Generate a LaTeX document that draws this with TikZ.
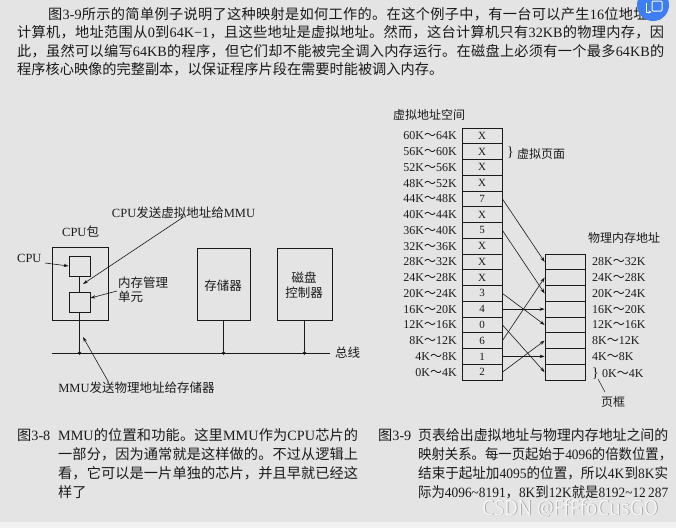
\documentclass[tikz,border=0pt]{standalone}
\usepackage{fontspec}
\usepackage{graphicx}
\setmainfont{Liberation Serif}
\newfontfamily\cjkfont{Noto Sans CJK SC}
\newfontfamily\latfont{Liberation Serif}
\newfontfamily\wmfont{Noto Sans}
\usetikzlibrary{arrows.meta}
\definecolor{bg}{HTML}{E4E4E4}
\definecolor{ink}{HTML}{1A1A1A}
\definecolor{iconblue}{HTML}{3D7EF2}
% automatic switching between Latin and CJK fonts
\XeTeXinterchartokenstate=1
\newXeTeXintercharclass\CJKcls
\newcount\clsi
\def\setcls#1#2{\clsi=#1\relax\loop\XeTeXcharclass\clsi=\CJKcls\relax\ifnum\clsi<#2\relax\advance\clsi by 1\relax\repeat}
\setcls{"3000}{"303F}
\setcls{"4E00}{"9FFF}
\setcls{"FF00}{"FFEF}
\def\cg{\hskip0pt plus 1pt minus 1pt\relax}
\XeTeXinterchartoks 0 \CJKcls = {\cg\cjkfont}
\XeTeXinterchartoks 4095 \CJKcls = {\cjkfont}
\XeTeXinterchartoks \CJKcls 0 = {\cg\latfont}
\XeTeXinterchartoks 4095 0 = {\latfont}
\XeTeXinterchartoks \CJKcls \CJKcls = {\cg}
\newbox\fbx
\newcommand\fitline[2]{\setbox\fbx\hbox{#2}\ifdim\wd\fbx>#1\relax\resizebox{#1}{\height}{\box\fbx}\else\hbox to #1{\unhbox\fbx}\fi}
\begin{document}
\begin{tikzpicture}[x=1pt,y=-1pt,
  ln/.style={draw=ink,line width=0.8pt},
  thin/.style={draw=ink,line width=0.5pt},
  cell/.style={draw=ink,line width=0.8pt,inner sep=0pt,minimum width=40pt,minimum height=15.75pt,text=ink,font=\fontsize{11}{11}\selectfont},
  box/.style={draw=ink,line width=0.8pt,inner sep=0pt},
  arr/.style={draw=ink,line width=0.6pt,-{Stealth[length=5pt,width=3.4pt]}},
  lbl/.style={inner sep=0pt,text=ink,font=\fontsize{12}{12}\selectfont},
  lblL/.style={inner sep=0pt,text=ink,font=\fontsize{12.5}{12.5}\selectfont},
  brc/.style={inner sep=0pt,text=ink,font=\fontsize{14}{14}\selectfont},
  body/.style={inner sep=0pt,text=ink,anchor=west,font=\fontsize{14.2}{14.2}\selectfont},
  dot/.style={circle,fill=ink,inner sep=0pt,minimum size=3.6pt},
  wm/.style={inner sep=0pt,anchor=west,font=\wmfont\fontsize{21}{21}\selectfont},
]
\useasboundingbox (0,0) rectangle (676,528);
\fill[bg] (0,0) rectangle (676,528);
\fill[bg!50!white] (0,522) rectangle (676,528);

% ---------- top paragraph ----------
\node[body] (p1) at (48,14) {\fitline{614pt}{图3-9所示的简单例子说明了这种映射是如何工作的。在这个例子中，有一台可以产生16位地址的}};
\node[body] (p2) at (17,32.5) {\fitline{647pt}{计算机，地址范围从0到64K−1，且这些地址是虚拟地址。然而，这台计算机只有32KB的物理内存，因}};
\node[body] (p3) at (17,51) {\fitline{647pt}{此，虽然可以编写64KB的程序，但它们却不能被完全调入内存运行。在磁盘上必须有一个最多64KB的}};
\node[body] (p4) at (17,69.5) {程序核心映像的完整副本，以保证程序片段在需要时能被调入内存。};

% ---------- figure 3-8 ----------
\node[box,minimum width=56pt,minimum height=73pt] (pkg) at (80,283.5) {};
\node[box,minimum width=21pt,minimum height=20pt] (cpu) at (79.5,266) {};
\node[box,minimum width=21pt,minimum height=20pt] (mmu) at (79.5,302) {};
\node[box,minimum width=53pt,minimum height=72pt] (mem) at (223.5,284) {};
\node[box,minimum width=55pt,minimum height=72pt] (disk) at (304.5,284) {};
\coordinate (busL) at (52,353);
\coordinate (busR) at (330,353);
\draw[ln] (busL) -- (busR);
\node[dot] (d1) at (79.5,353) {};
\node[dot] (d2) at (223.5,353) {};
\node[dot] (d3) at (304.5,353) {};
\draw[ln] (cpu) -- (mmu);
\draw[ln] (mmu) -- (d1);
\draw[ln] (mem) -- (d2);
\draw[ln] (disk) -- (d3);

\node[lblL,anchor=west] (cpupkg) at (62,232) {CPU包};
\node[lblL,anchor=west] (cpul) at (17,258) {CPU};
\node[lblL] (s1) at (183.5,213) {CPU发送虚拟地址给MMU};
\node[lblL,anchor=west] (mm1) at (118,283) {内存管理};
\node[lblL,anchor=west] (mm2) at (118,297) {单元};
\node[lblL] (memt) at (223,286) {存储器};
\node[lblL] (dk1) at (304,278) {磁盘};
\node[lblL] (dk2) at (304,293) {控制器};
\node[lblL,anchor=west] (zx) at (335,353) {总线};
\node[lblL] (s2) at (136.5,388) {MMU发送物理地址给存储器};

\coordinate (a1) at (45,263);
\coordinate (a2) at (117,291);
\coordinate (t1) at (83,284);
\coordinate (t2) at (83,337);
\draw[arr] (a1) -- (cpu.west);
\draw[arr] (a2) -- ([yshift=4pt]mmu.east);
\draw[arr] ([yshift=2pt]s1.south) -- (t1);
\draw[arr] ([xshift=-28pt]s2.north) -- (t2);

% ---------- figure 3-9 ----------
\node[lbl,anchor=west] (vas) at (393,115) {虚拟地址空间};
\foreach \v/\e in {0/2,1/1,2/6,3/0,4/4,5/3,6/X,7/X,8/X,9/5,10/X,11/7,12/X,13/X,14/X,15/X}{
  \node[cell] (v\v) at (482,372.125-15.75*\v) {\e};
  \node[lbl,anchor=east] (vl\v) at (457,372.125-15.75*\v) {\the\numexpr4*\v\relax K～\the\numexpr4*\v+4\relax K};
}
\foreach \f in {0,...,7}{
  \node[cell] (f\f) at (565,372.125-15.75*\f) {};
}
\foreach \f in {1,...,7}{
  \node[lbl,anchor=west] (fl\f) at (592,372.125-15.75*\f) {\the\numexpr4*\f\relax K～\the\numexpr4*\f+4\relax K};
}
\node[brc] (br2) at (595.5,373.5) {\}};
\node[lbl,anchor=west] (fl0) at (602,374) {0K～4K};
\node[lbl,anchor=west] (pma) at (588,238) {物理内存地址};
\node[brc] (br1) at (510.5,153) {\}};
\node[lbl,anchor=west] (vp) at (517,154) {虚拟页面};
\node[lbl] (yk) at (613,402) {页框};
\coordinate (yk1) at (598,379);
\coordinate (yk2) at (605,392);
\draw[thin] (yk1) -- (yk2);
\foreach \v/\f in {11/7,9/5,5/3,4/4,3/0,2/6,1/1,0/2}{
  \draw[arr] (v\v.east) -- (f\f.west);
}

% ---------- captions ----------
\node[body] (c8) at (17,435) {图3-8};
\node[body] (c8a) at (58,435) {\fitline{300pt}{MMU的位置和功能。这里MMU作为CPU芯片的}};
\node[body] (c8b) at (58,454) {\fitline{300pt}{一部分，因为通常就是这样做的。不过从逻辑上}};
\node[body] (c8c) at (58,473) {\fitline{300pt}{看，它可以是一片单独的芯片，并且早就已经这}};
\node[body] (c8d) at (58,492) {样了};
\node[body] (c9) at (378,435) {图3-9};
\node[body] (c9a) at (418,435) {\fitline{250pt}{页表给出虚拟地址与物理内存地址之间的}};
\node[body] (c9b) at (418,454) {\fitline{254pt}{映射关系。每一页起始于4096的倍数位置，}};
\node[body] (c9c) at (418,473) {\fitline{250pt}{结束于起址加4095的位置，所以4K到8K实}};
\node[body] (c9d) at (418,492) {\fitline{250pt}{际为4096\textasciitilde8191，8K到12K就是8192\textasciitilde12\,287}};

% ---------- watermark ----------
\node[wm,text=black!40] (wms) at (482.7,508.7) {\XeTeXinterchartokenstate=0 \resizebox{176pt}{\height}{CSDN @FfFfoCusGO}};
\node[wm,text=white!96!black] (wmt) at (482,508) {\XeTeXinterchartokenstate=0 \resizebox{176pt}{\height}{CSDN @FfFfoCusGO}};

% ---------- overlay icon ----------
\fill[iconblue] (653,5) circle (16pt);
\node[draw=white,line width=1pt,rounded corners=1pt,minimum width=10pt,minimum height=10pt,inner sep=0pt] (ic) at (657,6) {};
\coordinate (icA) at (646.5,3);
\coordinate (icB) at (646.5,12);
\draw[white,line width=1pt,-{Stealth[length=3pt,width=3pt]}] (icA) -- (icB) -- (ic.west |- icB);
\end{tikzpicture}
\end{document}
